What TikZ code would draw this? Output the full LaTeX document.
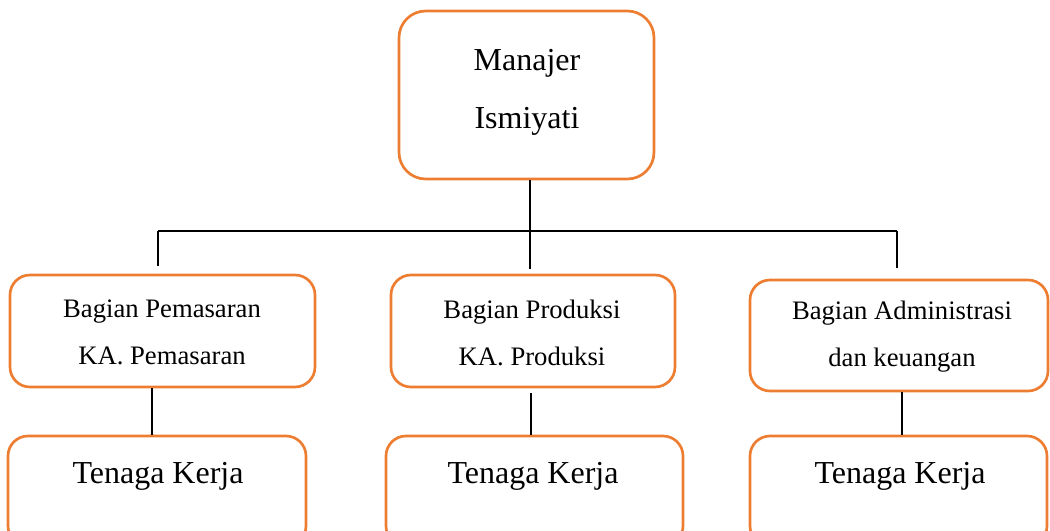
\documentclass[tikz,border=0pt]{standalone}
\usepackage{fontspec}
\setmainfont{Liberation Serif}
\definecolor{boxorange}{HTML}{ED7D31}
\begin{document}
\begin{tikzpicture}[x=0.75pt,y=-0.75pt,
  orgbox/.style={draw=boxorange,line width=2pt,rounded corners=15pt,fill=white,inner sep=0pt},
  link/.style={draw=black,line width=0.9pt},
  smalltxt/.style={align=center,font=\fontsize{20}{35.25}\selectfont,inner sep=0pt},
  bigtxt/.style={align=center,font=\fontsize{24}{43.5}\selectfont,inner sep=0pt}]
\useasboundingbox (0,0) rectangle (1050,531);
\clip (0,0) rectangle (1050,531);
% boxes
\node[orgbox,rounded corners=20pt,minimum width=191.25pt,minimum height=126pt] (top) at (526.5,95) {};
\node[orgbox,minimum width=228.75pt,minimum height=84pt] (pem) at (162.5,331) {};
\node[orgbox,minimum width=213pt,minimum height=84pt] (pro) at (533,331) {};
\node[orgbox,minimum width=223.5pt,minimum height=83.25pt] (adm) at (899,335.5) {};
\node[orgbox,minimum width=223.5pt,minimum height=82.5pt] (tk1) at (157,491) {};
\node[orgbox,minimum width=222.75pt,minimum height=82.5pt] (tk2) at (534.5,491) {};
\node[orgbox,minimum width=222.75pt,minimum height=82.5pt] (tk3) at (898.5,491) {};
% texts
\node[bigtxt] (ttop) at (527,92.5) {Manajer\\Ismiyati};
\node[smalltxt] (tpem) at (162,332.5) {Bagian Pemasaran\\KA. Pemasaran};
\node[smalltxt] (tpro) at (532,332.5) {Bagian Produksi\\KA. Produksi};
\node[smalltxt] (tadm) at (902,336.5) {Bagian Administrasi\\dan keuangan};
\node[bigtxt] (ttk1) at (158,476) {Tenaga Kerja};
\node[bigtxt] (ttk2) at (533,476) {Tenaga Kerja};
\node[bigtxt] (ttk3) at (900,476) {Tenaga Kerja};
% connectors
\coordinate (bl) at (158,231);
\coordinate (bm) at (530,231);
\coordinate (br) at (897,231);
\draw[link] (bl) -- (br);
\draw[link] (top.south -| bm) -- (bm);
\draw[link] (bl) -- +(0,35);
\draw[link] (bm) -- +(0,38);
\draw[link] (br) -- +(0,37);
\draw[link] ([xshift=-7.9pt]pem.south) -- ([xshift=-7.9pt]pem.south |- tk1.north);
\draw[link] ([xshift=-1.5pt,yshift=-3.75pt]pro.south) -- ([xshift=-1.5pt]pro.south |- tk2.north);
\draw[link] ([xshift=2.25pt]adm.south) -- ([xshift=2.25pt]adm.south |- tk3.north);
\end{tikzpicture}
\end{document}
